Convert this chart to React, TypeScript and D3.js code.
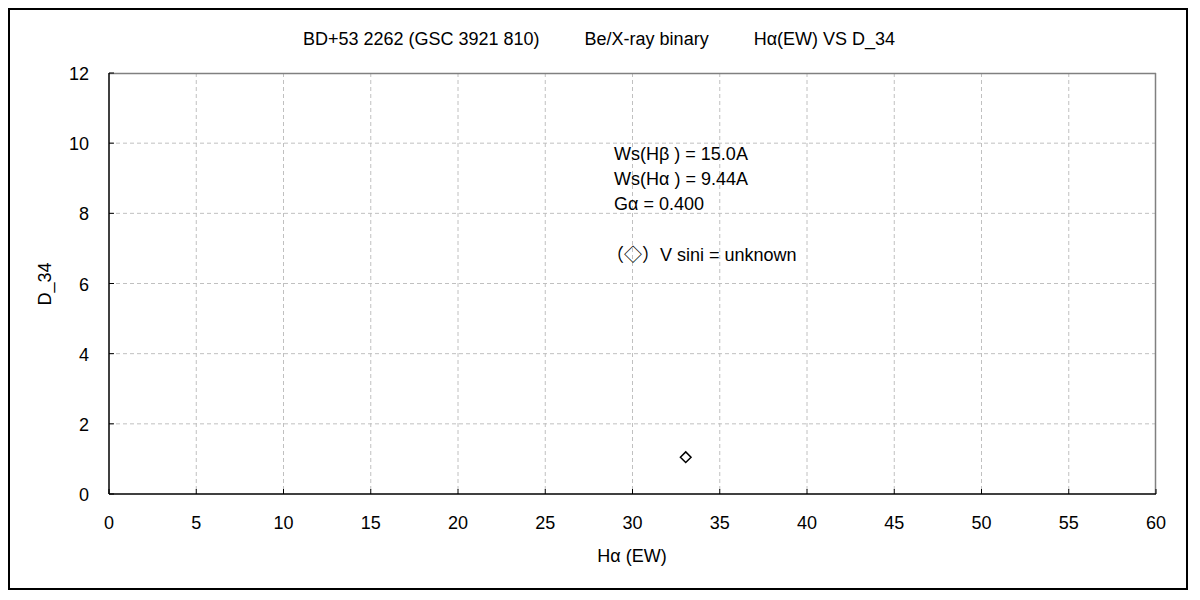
import React from "react";
import * as d3 from "d3";

const xTicks = [0, 5, 10, 15, 20, 25, 30, 35, 40, 45, 50, 55, 60];
const yTicks = [0, 2, 4, 6, 8, 10, 12];
const pointsX = [33.05];
const pointsY = [1.05];
const gap = "\u00a0".repeat(9);
const titleText = "BD+53 2262 (GSC 3921 810)" + gap + "Be/X-ray binary" + gap + "H\u03b1(EW) VS D_34";
const annotLines = ["Ws(H\u03b2 ) = 15.0A", "Ws(H\u03b1 ) = 9.44A", "G\u03b1 = 0.400"];
const legendText = "\uff08\u25c7\uff09V sini = unknown";

const W = 1200, H = 600;
const left = 109, right = 1156, top = 73, bottom = 494;
const font = "'Liberation Sans', Arial, 'Noto Sans CJK JP', sans-serif";

export default function App() {
  const x = d3.scaleLinear().domain([0, 60]).range([left, right]);
  const y = d3.scaleLinear().domain([0, 12]).range([bottom, top]);
  const diamond = d3.symbol().type(d3.symbolDiamond2).size(72)();
  return (
    <svg width={W} height={H} style={{ position: "absolute", left: 0, top: 0, background: "#fff" }} fontFamily={font}>
      <rect x={9} y={9} width={1178} height={580} fill="#fff" stroke="#000" strokeWidth={2} />
      {xTicks.slice(1, -1).map((t) => (
        <line key={"gx" + t} x1={x(t)} x2={x(t)} y1={top} y2={bottom} stroke="#c0c0c0" strokeDasharray="4,3" />
      ))}
      {yTicks.slice(1, -1).map((t) => (
        <line key={"gy" + t} x1={left} x2={right} y1={y(t)} y2={y(t)} stroke="#c0c0c0" strokeDasharray="4,3" />
      ))}
      <line x1={left} x2={right} y1={top + 0.5} y2={top + 0.5} stroke="#808080" strokeWidth={1.5} />
      <line x1={right - 0.5} x2={right - 0.5} y1={top} y2={bottom} stroke="#808080" strokeWidth={1.5} />
      <line x1={left} x2={right} y1={bottom} y2={bottom} stroke="#000" strokeWidth={1.5} />
      <line x1={left} x2={left} y1={top} y2={bottom} stroke="#000" strokeWidth={1.5} />
      {xTicks.map((t) => (
        <g key={"tx" + t}>
          <line x1={x(t)} x2={x(t)} y1={bottom} y2={bottom - 5} stroke="#000" />
          <text x={x(t)} y={bottom + 35} textAnchor="middle" fontSize={18}>{t}</text>
        </g>
      ))}
      {yTicks.map((t) => (
        <g key={"ty" + t}>
          <line x1={left} x2={left + 5} y1={y(t)} y2={y(t)} stroke="#000" />
          <text x={89} y={y(t) + 7} textAnchor="end" fontSize={18}>{t}</text>
        </g>
      ))}
      <text x={599} y={45} textAnchor="middle" fontSize={18}>{titleText}</text>
      <text x={632} y={562} textAnchor="middle" fontSize={18}>H{"\u03b1"} (EW)</text>
      <text transform={`translate(51,284) rotate(-90)`} textAnchor="middle" fontSize={18}>D_34</text>
      {annotLines.map((s, i) => (
        <text key={s} x={614} y={160 + i * 25} fontSize={18}>{s}</text>
      ))}
      <text x={606} y={261} fontSize={18}>{legendText}</text>
      {pointsX.map((v, i) => (
        <path key={i} d={diamond} transform={`translate(${x(v)},${y(pointsY[i])})`} fill="#fff" stroke="#000" strokeWidth={1.5} />
      ))}
    </svg>
  );
}
